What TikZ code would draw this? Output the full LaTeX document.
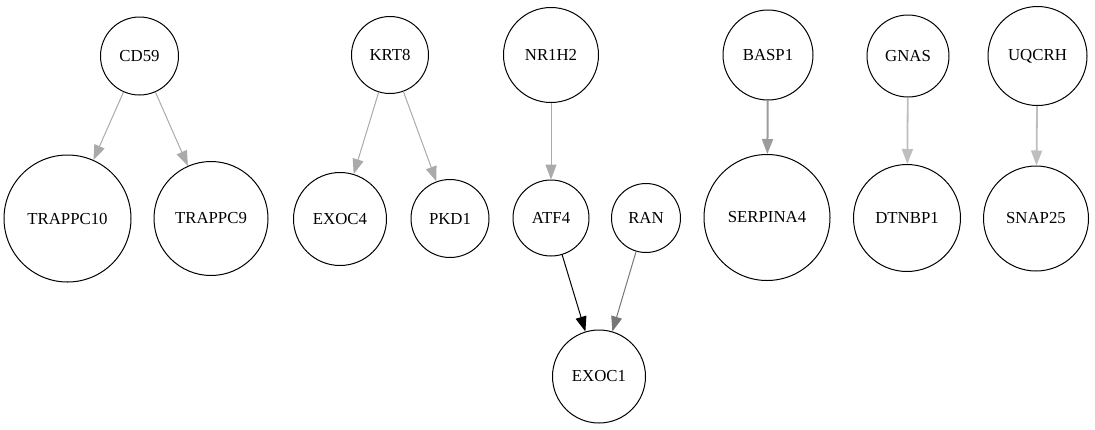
\documentclass[tikz,border=0pt]{standalone}
\usepackage{fontspec}
\setmainfont{Liberation Serif}
\usetikzlibrary{arrows.meta}
\begin{document}
\begin{tikzpicture}[x=1pt,y=-1pt,
  gene/.style={circle,draw=black,line width=1pt,inner sep=0pt,
    font=\fontsize{16.8}{20}\selectfont},
  link/.style={line width=1pt,-{Triangle[length=15pt,width=11pt]}},
  lite/.style={link,draw={rgb,255:red,170;green,170;blue,170}},
  pale/.style={link,line width=1.8pt,draw={rgb,255:red,190;green,190;blue,190}},
  mid/.style={link,line width=2pt,draw={rgb,255:red,155;green,155;blue,155}},
  dark/.style={link,draw={rgb,255:red,119;green,119;blue,119}},
  strong/.style={link,draw=black}]
\useasboundingbox (0,0) rectangle (1095,429);
% top row
\node[gene,minimum size=78pt] (cd59) at (139.5,56) {CD59};
\node[gene,minimum size=77pt] (krt8) at (390,55) {KRT8};
\node[gene,minimum size=95pt] (nr1h2) at (551,55) {NR1H2};
\node[gene,minimum size=90pt] (basp1) at (768,55) {BASP1};
\node[gene,minimum size=82pt] (gnas) at (908,56) {GNAS};
\node[gene,minimum size=99pt] (uqcrh) at (1037.5,56) {UQCRH};
% middle row
\node[gene,minimum size=127pt] (trappc10) at (67.5,218.5) {TRAPPC10};
\node[gene,minimum size=114pt] (trappc9) at (211,218.5) {TRAPPC9};
\node[gene,minimum size=93pt] (exoc4) at (340,219) {EXOC4};
\node[gene,minimum size=78pt] (pkd1) at (450,218.5) {PKD1};
\node[gene,minimum size=76pt] (atf4) at (551,218) {ATF4};
\node[gene,minimum size=69pt] (ran) at (646,218) {RAN};
\node[gene,minimum size=126pt] (serpina4) at (767,217.5) {SERPINA4};
\node[gene,minimum size=107pt] (dtnbp1) at (907,218) {DTNBP1};
\node[gene,minimum size=105pt] (snap25) at (1036,218.5) {SNAP25};
% bottom row
\node[gene,minimum size=93pt] (exoc1) at (599,376.5) {EXOC1};
% edges
\draw[lite] (cd59) -- (trappc10);
\draw[lite] (cd59) -- (trappc9);
\draw[lite] (krt8) -- (exoc4);
\draw[lite] (krt8) -- (pkd1);
\draw[lite] (nr1h2) -- (atf4);
\draw[mid] (basp1) -- (serpina4);
\draw[pale] (gnas) -- (dtnbp1);
\draw[pale] (uqcrh) -- (snap25);
\draw[strong] (atf4) -- (exoc1);
\draw[dark] (ran) -- (exoc1);
\end{tikzpicture}
\end{document}
